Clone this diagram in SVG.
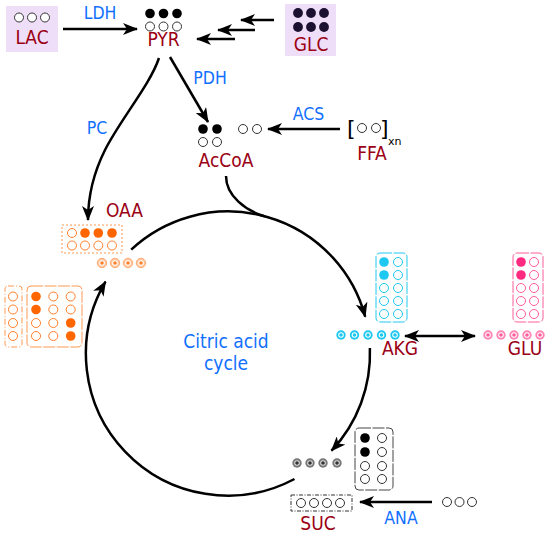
<svg xmlns="http://www.w3.org/2000/svg" width="550" height="535" viewBox="0 0 550 535">
<defs>
<style>
.lbl{font-family:"DejaVu Sans Condensed","DejaVu Sans","Liberation Sans",sans-serif;font-stretch:condensed;font-size:19px;fill:#9b0014;text-anchor:middle}
.enz{font-family:"DejaVu Sans Condensed","DejaVu Sans","Liberation Sans",sans-serif;font-stretch:condensed;font-size:17.5px;fill:#1170ff;text-anchor:middle}
.cyc{font-size:19px}
.con{fill:none;stroke:#000;stroke-width:2.5}
.o{fill:#fff;stroke:#333;stroke-width:1}
.k{fill:#000}
.g{fill:#1c1030}
.oo{fill:#fff;stroke:#ff7f2a;stroke-width:1}
.of{fill:#ff6600}
.co{fill:#fff;stroke:#1ec8f0;stroke-width:1}
.cf{fill:#1ec8f0}
.po{fill:#fff;stroke:#ff5c9a;stroke-width:1}
.pf{fill:#ff2a7f}
.br{font-family:"DejaVu Sans","Liberation Sans",sans-serif;font-size:22px;fill:#000}
</style>
<marker id="ah" viewBox="0 0 15 12" refX="14" refY="6" markerWidth="15" markerHeight="12" markerUnits="userSpaceOnUse" orient="auto-start-reverse">
<path d="M0,0 L15,6 L0,12 L4,6 Z" fill="#000"/>
</marker>
<g id="ringO"><circle r="4.7" fill="#ffc9a3" stroke="#ff9955" stroke-width="0.8"/><circle r="2.8" fill="#fff"/><circle r="1.8" fill="#ff7f2a"/></g>
<g id="ringC"><circle r="4.7" fill="#1ec8f0"/><circle r="2.8" fill="#fff"/><circle r="1.8" fill="#1ec8f0"/></g>
<g id="ringP"><circle r="4.7" fill="#ff86b4"/><circle r="2.8" fill="#fff"/><circle r="1.8" fill="#ff5c9a"/></g>
<g id="ringK"><circle r="4.7" fill="#777"/><circle r="2.8" fill="#ddd"/><circle r="1.8" fill="#333"/></g>
</defs>
<rect width="550" height="535" fill="#fff"/>

<g id="connectors">
<path class="con" d="M63,29 L137,29" marker-end="url(#ah)"/>
<path class="con" d="M274,20 L241,20" marker-end="url(#ah)"/>
<path class="con" d="M255,30 L218,30" marker-end="url(#ah)"/>
<path class="con" d="M235,39 L197,39" marker-end="url(#ah)"/>
<path class="con" d="M170,57 L208,122" marker-end="url(#ah)"/>
<path class="con" d="M159,58 C150,85 120,120 105,150 C96,168 88,192 88,220" marker-end="url(#ah)"/>
<path class="con" d="M340,129 L268,129" marker-end="url(#ah)"/>
<path class="con" d="M226,176 C226,196 246,211 265,216.4"/>
<path class="con" d="M131.2,249.6 A142,142 0 0 1 365.2,316.7" marker-end="url(#ah)"/>
<path class="con" d="M369.9,348 A142,142 0 0 1 331.5,450.7" marker-end="url(#ah)"/>
<path class="con" d="M294.5,479 A142,142 0 0 1 105.5,281.6" marker-end="url(#ah)"/>
<path class="con" d="M405,336 L475,336" marker-start="url(#ah)" marker-end="url(#ah)"/>
<path class="con" d="M432,502 L360,502" marker-end="url(#ah)"/>
<text class="enz" x="100" y="19">LDH</text>
<text class="enz" x="210" y="84">PDH</text>
<text class="enz" x="97" y="134">PC</text>
<text class="enz" x="308.5" y="120">ACS</text>
<text class="enz" x="401" y="524">ANA</text>
</g>

<g id="LAC">
<rect x="6" y="6" width="52" height="46" fill="#efdef7"/>
<circle class="o" cx="19" cy="17.5" r="4.5"/><circle class="o" cx="32" cy="17.5" r="4.5"/><circle class="o" cx="45" cy="17.5" r="4.5"/>
<text class="lbl" x="32" y="44">LAC</text>
</g>

<g id="PYR">
<circle class="k" cx="150" cy="13.5" r="4.8"/><circle class="k" cx="163.5" cy="13.5" r="4.8"/><circle class="k" cx="177" cy="13.5" r="4.8"/>
<circle class="o" cx="150" cy="26.5" r="4.5"/><circle class="o" cx="163.5" cy="26.5" r="4.5"/><circle class="o" cx="177" cy="26.5" r="4.5"/>
<text class="lbl" x="163.5" y="46">PYR</text>
</g>

<g id="GLC">
<rect x="285" y="4" width="51" height="52" fill="#efdef7"/>
<circle class="g" cx="298" cy="13" r="4.9"/><circle class="g" cx="311" cy="13" r="4.9"/><circle class="g" cx="324" cy="13" r="4.9"/>
<circle class="g" cx="298" cy="27" r="4.9"/><circle class="g" cx="311" cy="27" r="4.9"/><circle class="g" cx="324" cy="27" r="4.9"/>
<text class="lbl" x="311" y="51">GLC</text>
</g>

<g id="AcCoA">
<circle class="k" cx="203" cy="129" r="4.8"/><circle class="k" cx="217" cy="129" r="4.8"/>
<circle class="o" cx="203" cy="142" r="4.5"/><circle class="o" cx="217" cy="142" r="4.5"/>
<circle class="o" cx="243" cy="129" r="4.5"/><circle class="o" cx="257" cy="129" r="4.5"/>
<text class="lbl" x="226" y="167">AcCoA</text>
</g>

<g id="FFA">
<text class="br" x="347" y="136">[</text>
<circle class="o" cx="362" cy="128" r="4.5"/><circle class="o" cx="376" cy="128" r="4.5"/>
<text class="br" x="380" y="136">]</text>
<text x="388" y="145" font-family="DejaVu Sans, sans-serif" font-size="11" fill="#000">xn</text>
<text class="lbl" x="372" y="160">FFA</text>
</g>

<g id="OAA">
<text class="lbl" x="124.5" y="217">OAA</text>
<rect x="62" y="225" width="60" height="28" fill="none" stroke="#ff9955" stroke-width="1" stroke-dasharray="2,2"/>
<circle class="oo" cx="72" cy="233" r="4.5"/><circle class="of" cx="85" cy="233" r="4.8"/><circle class="of" cx="98.3" cy="233" r="4.8"/><circle class="of" cx="112" cy="233" r="4.8"/>
<circle class="oo" cx="72" cy="245.5" r="4.5"/><circle class="oo" cx="85" cy="245.5" r="4.5"/><circle class="oo" cx="98.3" cy="245.5" r="4.5"/><circle class="oo" cx="112" cy="245.5" r="4.5"/>
<use href="#ringO" x="102" y="263"/><use href="#ringO" x="115" y="263"/><use href="#ringO" x="128" y="263"/><use href="#ringO" x="141" y="263"/>
</g>

<g id="OAA-pool">
<rect x="5" y="286" width="17" height="61" rx="3" fill="none" stroke="#ff9955" stroke-width="1" stroke-dasharray="6,2,1,2"/>
<circle class="oo" cx="13" cy="296.5" r="4.5"/><circle class="oo" cx="13" cy="309.5" r="4.5"/><circle class="oo" cx="13" cy="323" r="4.5"/><circle class="oo" cx="13" cy="336" r="4.5"/>
<rect x="27" y="286" width="55" height="61" rx="4" fill="none" stroke="#ff9955" stroke-width="1" stroke-dasharray="12,1.5"/>
<circle class="of" cx="36" cy="296.5" r="4.8"/><circle class="oo" cx="53.3" cy="296.5" r="4.5"/><circle class="oo" cx="70.7" cy="296.5" r="4.5"/>
<circle class="of" cx="36" cy="309.5" r="4.8"/><circle class="oo" cx="53.3" cy="309.5" r="4.5"/><circle class="oo" cx="70.7" cy="309.5" r="4.5"/>
<circle class="oo" cx="36" cy="323" r="4.5"/><circle class="oo" cx="53.3" cy="323" r="4.5"/><circle class="of" cx="70.7" cy="323" r="4.8"/>
<circle class="oo" cx="36" cy="336" r="4.5"/><circle class="oo" cx="53.3" cy="336" r="4.5"/><circle class="of" cx="70.7" cy="336" r="4.8"/>
</g>

<g id="cycle-label">
<text class="enz cyc" x="226" y="348">Citric acid</text>
<text class="enz cyc" x="226" y="370">cycle</text>
</g>

<g id="AKG">
<rect x="376" y="253" width="31" height="69" rx="4" fill="none" stroke="#1ec8f0" stroke-width="1" stroke-dasharray="12,1.5"/>
<circle class="cf" cx="384" cy="262" r="4.8"/><circle class="co" cx="398" cy="262" r="4.5"/>
<circle class="cf" cx="384" cy="275" r="4.8"/><circle class="co" cx="398" cy="275" r="4.5"/>
<circle class="co" cx="384" cy="288" r="4.5"/><circle class="co" cx="398" cy="288" r="4.5"/>
<circle class="co" cx="384" cy="301" r="4.5"/><circle class="co" cx="398" cy="301" r="4.5"/>
<circle class="co" cx="384" cy="314" r="4.5"/><circle class="co" cx="398" cy="314" r="4.5"/>
<use href="#ringC" x="341" y="335"/><use href="#ringC" x="354.5" y="335"/><use href="#ringC" x="368" y="335"/><use href="#ringC" x="381.5" y="335"/><use href="#ringC" x="395" y="335"/>
<text class="lbl" x="400" y="355">AKG</text>
</g>

<g id="GLU">
<rect x="513" y="253" width="30" height="69" rx="4" fill="none" stroke="#ff5c9a" stroke-width="1" stroke-dasharray="12,1.5"/>
<circle class="pf" cx="521" cy="262" r="4.8"/><circle class="po" cx="534" cy="262" r="4.5"/>
<circle class="pf" cx="521" cy="275" r="4.8"/><circle class="po" cx="534" cy="275" r="4.5"/>
<circle class="po" cx="521" cy="288" r="4.5"/><circle class="po" cx="534" cy="288" r="4.5"/>
<circle class="po" cx="521" cy="301" r="4.5"/><circle class="po" cx="534" cy="301" r="4.5"/>
<circle class="po" cx="521" cy="314" r="4.5"/><circle class="po" cx="534" cy="314" r="4.5"/>
<use href="#ringP" x="488" y="335"/><use href="#ringP" x="501" y="335"/><use href="#ringP" x="514" y="335"/><use href="#ringP" x="527" y="335"/><use href="#ringP" x="540" y="335"/>
<text class="lbl" x="525" y="355">GLU</text>
</g>

<g id="SUC">
<rect x="355" y="428" width="38" height="62" rx="4" fill="none" stroke="#444" stroke-width="1" stroke-dasharray="12,1.5"/>
<circle class="k" cx="365" cy="438" r="4.8"/><circle class="o" cx="382" cy="438" r="4.5"/>
<circle class="k" cx="365" cy="452" r="4.8"/><circle class="o" cx="382" cy="452" r="4.5"/>
<circle class="o" cx="365" cy="466" r="4.5"/><circle class="o" cx="382" cy="466" r="4.5"/>
<circle class="o" cx="365" cy="479" r="4.5"/><circle class="o" cx="382" cy="479" r="4.5"/>
<use href="#ringK" x="297" y="463"/><use href="#ringK" x="310" y="463"/><use href="#ringK" x="323" y="463"/><use href="#ringK" x="337" y="463"/>
<rect x="291" y="495" width="61" height="16" fill="none" stroke="#333" stroke-width="1" stroke-dasharray="4,1.5,1,1.5"/>
<circle class="o" cx="301" cy="503" r="4.5"/><circle class="o" cx="314" cy="503" r="4.5"/><circle class="o" cx="327" cy="503" r="4.5"/><circle class="o" cx="340" cy="503" r="4.5"/>
<text class="lbl" x="318" y="530">SUC</text>
</g>

<g id="ANA-source">
<circle class="o" cx="447" cy="502" r="4.5"/><circle class="o" cx="459.5" cy="502" r="4.5"/><circle class="o" cx="472" cy="502" r="4.5"/>
</g>
</svg>
